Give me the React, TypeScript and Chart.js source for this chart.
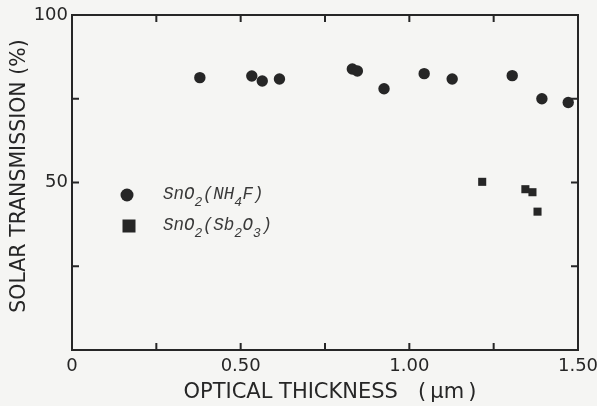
import React, { useEffect, useRef } from 'react';
import { Chart, registerables } from 'chart.js';

Chart.register(...registerables);

// SnO2(NH4F) films
const nh4fThickness = [0.379, 0.533, 0.564, 0.615, 0.831, 0.846, 0.925, 1.044, 1.127, 1.305, 1.393, 1.471];
const nh4fTransmission = [81.3, 81.8, 80.3, 80.9, 83.9, 83.3, 78.0, 82.5, 80.9, 81.9, 75.0, 73.9];
// SnO2(Sb2O3) films
const sb2o3Thickness = [1.216, 1.344, 1.365, 1.38];
const sb2o3Transmission = [50.2, 48.0, 47.1, 41.3];

const xTickValues = [0, 0.5, 1.0, 1.5];
const xTickLabels = ['0', '0.50', '1.00', '1.50'];
const yTickValues = [50, 100];
const yTickLabels = ['50', '100'];

const xTitle = 'OPTICAL THICKNESS   (\u2009\u03bcm\u2009)';
const yTitle = 'SOLAR TRANSMISSION (%)';

// legend text pieces, alternating normal / subscript
const legendNh4fParts = ['SnO', '2', '(NH', '4', 'F)'];
const legendSb2o3Parts = ['SnO', '2', '(Sb', '2', 'O', '3', ')'];

const INK = '#262626';
const BG = '#f5f5f3';

function drawParts(ctx: CanvasRenderingContext2D, parts: string[], x: number, y: number) {
  let cx = x;
  parts.forEach((p, i) => {
    const sub = i % 2 === 1;
    ctx.font = sub ? 'italic 13px "Liberation Mono"' : 'italic 17.5px "Liberation Mono"';
    ctx.fillText(p, cx, sub ? y + 7 : y);
    cx += ctx.measureText(p).width + (sub ? 0.5 : 0);
  });
}

const framePlugin = {
  id: 'frame',
  beforeDraw(chart: any) {
    const { ctx, width, height } = chart;
    ctx.save();
    ctx.fillStyle = BG;
    ctx.fillRect(0, 0, width, height);
    ctx.restore();
  },
  afterDraw(chart: any) {
    const { ctx, chartArea } = chart;
    const { left, right, top, bottom } = chartArea;
    const xs = chart.scales.x;
    const ys = chart.scales.y;
    ctx.save();
    ctx.strokeStyle = INK;
    ctx.lineWidth = 2;
    ctx.strokeRect(left, top, right - left, bottom - top);
    const tl = 7;
    ctx.beginPath();
    xs.ticks.forEach((t: any) => {
      const px = xs.getPixelForValue(t.value);
      ctx.moveTo(px, bottom);
      ctx.lineTo(px, bottom - tl);
      ctx.moveTo(px, top);
      ctx.lineTo(px, top + tl);
    });
    ys.ticks.forEach((t: any) => {
      const py = ys.getPixelForValue(t.value);
      ctx.moveTo(left, py);
      ctx.lineTo(left + tl, py);
      ctx.moveTo(right, py);
      ctx.lineTo(right - tl, py);
    });
    ctx.stroke();

    // axis titles
    ctx.fillStyle = INK;
    ctx.textAlign = 'center';
    ctx.textBaseline = 'middle';
    ctx.font = '21px "DejaVu Sans"';
    ctx.fillText(xTitle, 330, 393);
    ctx.save();
    ctx.translate(19.5, 176);
    ctx.rotate(-Math.PI / 2);
    ctx.font = '20.5px "DejaVu Sans"';
    ctx.fillText(yTitle, 0, 0);
    ctx.restore();

    // legend
    const lx = left + 55;
    const ly1 = top + 180;
    const ly2 = top + 211;
    ctx.fillStyle = INK;
    ctx.beginPath();
    ctx.arc(lx, ly1, 6.5, 0, Math.PI * 2);
    ctx.fill();
    ctx.fillRect(lx + 2 - 6.5, ly2 - 6.5, 13, 13);
    ctx.fillStyle = '#3a3a3a';
    ctx.textAlign = 'left';
    ctx.textBaseline = 'alphabetic';
    drawParts(ctx, legendNh4fParts, lx + 36, ly1 + 4);
    drawParts(ctx, legendSb2o3Parts, lx + 36, ly2 + 4);
    ctx.restore();
  },
};

export default function App() {
  const ref = useRef<HTMLCanvasElement | null>(null);
  useEffect(() => {
    if (!ref.current) return;
    const chart = new Chart(ref.current, {
      type: 'scatter',
      data: {
        datasets: [
          {
            label: 'SnO2(NH4F)',
            data: nh4fThickness.map((x, i) => ({ x, y: nh4fTransmission[i] })),
            pointStyle: 'circle',
            pointRadius: 5.7,
            backgroundColor: INK,
            borderColor: INK,
            borderWidth: 0,
          },
          {
            label: 'SnO2(Sb2O3)',
            data: sb2o3Thickness.map((x, i) => ({ x, y: sb2o3Transmission[i] })),
            pointStyle: 'rect',
            pointRadius: 5.7,
            backgroundColor: INK,
            borderColor: INK,
            borderWidth: 0,
          },
        ],
      },
      options: {
        responsive: false,
        animation: false,
        devicePixelRatio: 1,
        layout: { padding: { top: 15, right: 19, left: 0, bottom: 0 } },
        plugins: { legend: { display: false }, tooltip: { enabled: false } },
        scales: {
          x: {
            type: 'linear',
            min: 0,
            max: 1.5,
            afterFit: (s: any) => {
              s.height = 56;
              s.paddingLeft = 0;
              s.paddingRight = 0;
            },
            grid: { display: false, drawTicks: false },
            border: { display: false },
            ticks: {
              stepSize: 0.25,
              autoSkip: false,
              maxRotation: 0,
              padding: 6,
              color: INK,
              font: { family: 'DejaVu Sans', size: 18 },
              callback: (v: any) => {
                const i = xTickValues.findIndex((t) => Math.abs(t - Number(v)) < 1e-6);
                return i >= 0 ? xTickLabels[i] : '';
              },
            },
          },
          y: {
            type: 'linear',
            min: 0,
            max: 100,
            afterFit: (s: any) => {
              s.width = 72;
              s.paddingTop = 0;
              s.paddingBottom = 0;
            },
            grid: { display: false, drawTicks: false },
            border: { display: false },
            ticks: {
              stepSize: 25,
              autoSkip: false,
              padding: 4,
              color: INK,
              font: { family: 'DejaVu Sans', size: 18 },
              callback: (v: any) => {
                const i = yTickValues.findIndex((t) => Math.abs(t - Number(v)) < 1e-6);
                return i >= 0 ? yTickLabels[i] : '';
              },
            },
          },
        },
      },
      plugins: [framePlugin],
    });
    return () => chart.destroy();
  }, []);
  return (
    <div style={{ position: 'fixed', left: 0, top: 0, width: 597, height: 406 }}>
      <canvas ref={ref} width={597} height={406} />
    </div>
  );
}
